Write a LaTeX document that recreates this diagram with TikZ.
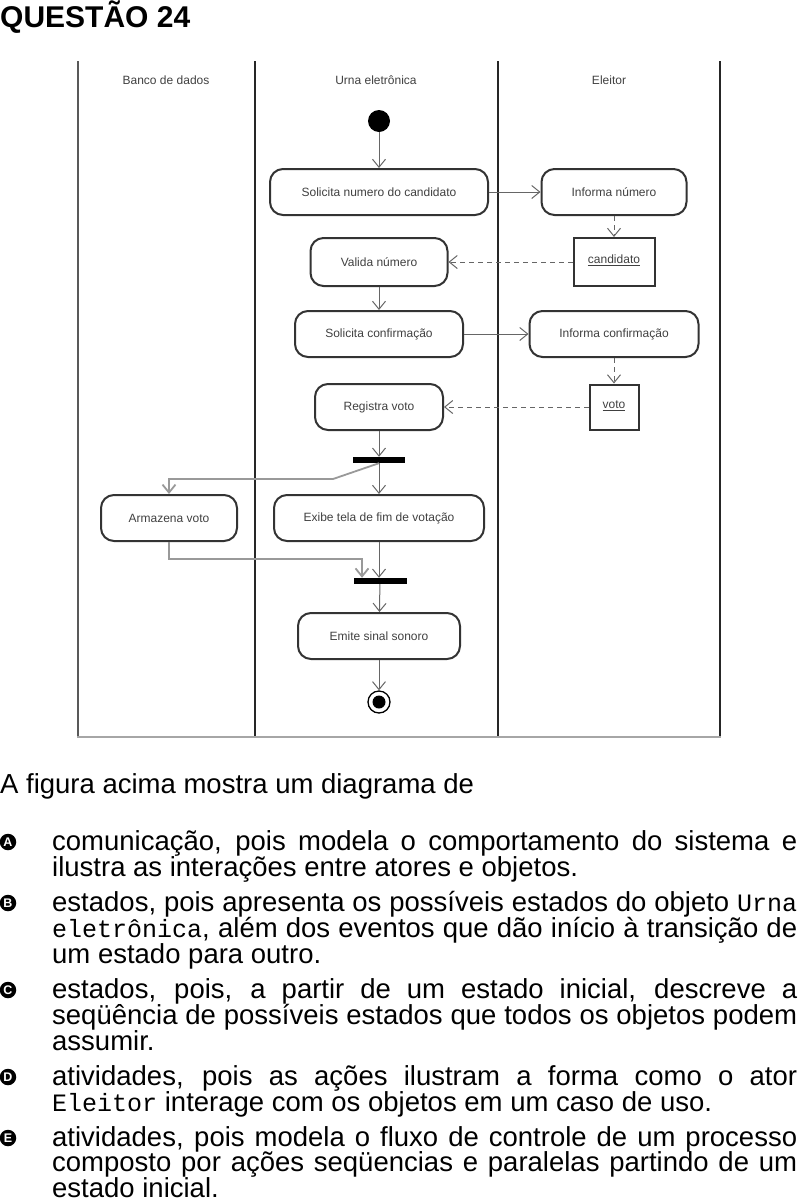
\documentclass[tikz,border=0pt]{standalone}
\usepackage{fontspec}
\setmainfont{Liberation Sans}
\setmonofont{Liberation Mono}
\usetikzlibrary{arrows.meta}
\newcommand\mcode[1]{{\fontsize{25}{30}\selectfont\ttfamily #1}}
\begin{document}
\begin{tikzpicture}[x=1pt,y=-1pt,
  lane/.style={draw=black!85, line width=2pt},
  act/.style={draw=black!80, line width=2pt, rounded corners=13pt, minimum height=46pt, inner sep=0pt, font=\fontsize{12}{14}\selectfont, text=black!75},
  obj/.style={draw=black!80, line width=2pt, inner sep=0pt, font=\fontsize{12}{14}\selectfont, text=black!75},
  bar/.style={fill=black, minimum width=52pt, minimum height=6pt, inner sep=0pt},
  flow/.style={draw=black!60, line width=1pt, -{Straight Barb[length=8pt,width=13pt]}},
  dflow/.style={flow, dash pattern=on 5pt off 4pt},
  flowx/.style={flow, draw=black!40, line width=1.8pt},
  title/.style={font=\fontsize{12}{14}\selectfont, text=black!75, inner sep=0pt},
  body/.style={anchor=base west, inner sep=0pt, font=\fontsize{27.5}{30}\selectfont, text height=19pt, text depth=4pt},
  letter/.style={circle, fill=black, text=white, font=\bfseries\fontsize{12.5}{12.5}\selectfont, minimum size=16.5pt, inner sep=0pt}
]
\useasboundingbox (0,0) rectangle (798,1203);

% heading
\node[anchor=base west, inner sep=0pt, font=\bfseries\fontsize{30}{32}\selectfont] (head) at (0,27.5) {QUESTÃO 24};

% swimlanes
\draw[lane, draw=black!65] (78,61) -- (78,737);
\draw[lane] (255,61) -- (255,737);
\draw[lane] (498,61) -- (498,737);
\draw[lane] (720,61) -- (720,737);
\draw[draw=black!35, line width=2pt] (77,737) -- (721,737);

\node[title] (t1) at (166,80) {Banco de dados};
\node[title] (t2) at (376,80) {Urna eletrônica};
\node[title] (t3) at (609,80) {Eleitor};

% nodes
\node[circle, fill=black, minimum size=22pt, inner sep=0pt] (ini) at (379,121) {};
\node[act, minimum width=218pt] (snc) at (379,192) {Solicita numero do candidato};
\node[act, minimum width=145pt] (inum) at (614,192) {Informa número};
\node[obj, minimum width=81pt, minimum height=48pt] (cand) at (614,262) {\raisebox{5pt}{\underline{candidato}}};
\node[act, minimum width=137pt, minimum height=48pt] (val) at (379,262) {Valida número};
\node[act, minimum width=168pt] (sconf) at (379,334) {Solicita confirmação};
\node[act, minimum width=169pt] (iconf) at (614,334) {Informa confirmação};
\node[obj, minimum width=49pt, minimum height=45pt] (voto) at (614,407) {\raisebox{4pt}{\underline{voto}}};
\node[act, minimum width=128pt] (reg) at (379,407) {Registra voto};
\node[bar] (fork) at (379,460) {};
\node[act, minimum width=136pt] (arm) at (169,518) {Armazena voto};
\node[act, minimum width=210pt] (exi) at (379,518) {Exibe tela de fim de votação};
\node[bar, minimum width=53pt] (join) at (380,581) {};
\node[act, minimum width=162pt] (emi) at (379,636) {Emite sinal sonoro};
\node[circle, draw=black, line width=1.3pt, minimum size=22pt, inner sep=0pt] (fin) at (379,702) {};
\node[circle, fill=black, minimum size=13pt, inner sep=0pt] (fincore) at (fin) {};

\coordinate (f1) at (333,479);
\coordinate (j1) at (362,559);

% connectors
\draw[flow] (ini) -- (snc);
\draw[flow] (snc) -- (inum);
\draw[dflow] (inum) -- (cand);
\draw[dflow] (cand) -- (val);
\draw[flow] (val) -- (sconf);
\draw[flow] (sconf) -- (iconf);
\draw[dflow] (iconf) -- (voto);
\draw[dflow] (voto) -- (reg);
\draw[flow] (reg) -- (fork);
\draw[flow] (fork) -- (exi);
\draw[flowx] (fork.south) -- (f1) -| (arm);
\draw[flowx] (arm) |- (j1) -- (j1 |- join.north);
\draw[flow] (exi) -- (exi |- join.north);
\draw[flow] (join) -- (emi);
\draw[flow] (emi) -- (fin);

% question text
\node[body] (intro) at (0,793) {A figura acima mostra um diagrama de};

\node[letter] (la) at (8,842) {A};
\node[body] (a1) at (52,850) {\makebox[745pt][s]{comunicação, pois modela o comportamento do sistema e}};
\node[body] (a2) at (52,876) {ilustra as interações entre atores e objetos.};

\node[letter] (lb) at (8,903) {B};
\node[body] (b1) at (52,911) {\makebox[745pt][s]{estados, pois apresenta os possíveis estados do objeto \mcode{Urna}}};
\node[body] (b2) at (52,937) {\makebox[745pt][s]{\mcode{eletrônica}, além dos eventos que dão início à transição de}};
\node[body] (b3) at (52,963) {um estado para outro.};

\node[letter] (lc) at (8,990) {C};
\node[body] (c1) at (52,998) {\makebox[745pt][s]{estados, pois, a partir de um estado inicial, descreve a}};
\node[body] (c2) at (52,1024) {\makebox[745pt][s]{seqüência de possíveis estados que todos os objetos podem}};
\node[body] (c3) at (52,1050) {assumir.};

\node[letter] (ld) at (8,1077) {D};
\node[body] (d1) at (52,1085) {\makebox[745pt][s]{atividades, pois as ações ilustram a forma como o ator}};
\node[body] (d2) at (52,1111) {\mcode{Eleitor} interage com os objetos em um caso de uso.};

\node[letter] (le) at (8,1138) {E};
\node[body] (e1) at (52,1146) {\makebox[745pt][s]{atividades, pois modela o fluxo de controle de um processo}};
\node[body] (e2) at (52,1171) {\makebox[745pt][s]{composto por ações seqüencias e paralelas partindo de um}};
\node[body] (e3) at (52,1197) {estado inicial.};
\end{tikzpicture}
\end{document}
